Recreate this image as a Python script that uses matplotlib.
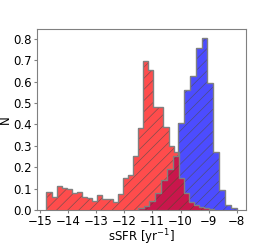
import numpy as np
from matplotlib import pyplot as plt

# bin ranges (sSFR, yr^-1)
red_range = (-14.76, -8.80)
red_nbins = 33
blue_range = (-11.52, -8.01)
blue_nbins = 17

# normalised bin heights
red_heights = [0.086, 0.063, 0.115, 0.103, 0.099, 0.080, 0.086, 0.063,
               0.057, 0.043, 0.070, 0.053, 0.053, 0.038, 0.077, 0.149,
               0.165, 0.255, 0.385, 0.695, 0.652, 0.480, 0.480, 0.390,
               0.300, 0.270, 0.150, 0.078, 0.036, 0.022, 0.016, 0.010,
               0.005]
blue_heights = [0.008, 0.020, 0.045, 0.080, 0.140, 0.190, 0.255, 0.408,
                0.560, 0.624, 0.756, 0.805, 0.594, 0.273, 0.095, 0.026,
                0.011]

red_bins = np.linspace(red_range[0], red_range[1], red_nbins + 1)
blue_bins = np.linspace(blue_range[0], blue_range[1], blue_nbins + 1)

plt.rcParams['font.size'] = 8.5
plt.rcParams['hatch.linewidth'] = 0.5

fig = plt.figure(figsize=(2.74, 2.45), dpi=100)
ax = fig.add_axes([0.135, 0.142, 0.763, 0.740])

# blue first, red drawn over it
for bins, heights, color in [(blue_bins, blue_heights, 'blue'),
                             (red_bins, red_heights, 'red')]:
    centers = (bins[:-1] + bins[1:]) / 2
    ax.hist(centers, bins=bins, weights=heights, histtype='stepfilled',
            color=color, alpha=0.7, hatch='///', edgecolor='0.3',
            linewidth=0)
    ax.hist(centers, bins=bins, weights=heights, histtype='step',
            color='gray', linewidth=1)

ax.set_xticks(np.arange(-15, -7, 1))
ax.set_yticks(np.arange(0, 0.81, 0.1))
ax.set_xlabel('sSFR [yr$^{-1}$]', labelpad=-0.5)
ax.set_ylabel('N', labelpad=1)

for s in ax.spines.values():
    s.set_color('gray')
ax.tick_params(color='gray', length=2.5, pad=1)

fig.savefig('out.png', dpi=100)
